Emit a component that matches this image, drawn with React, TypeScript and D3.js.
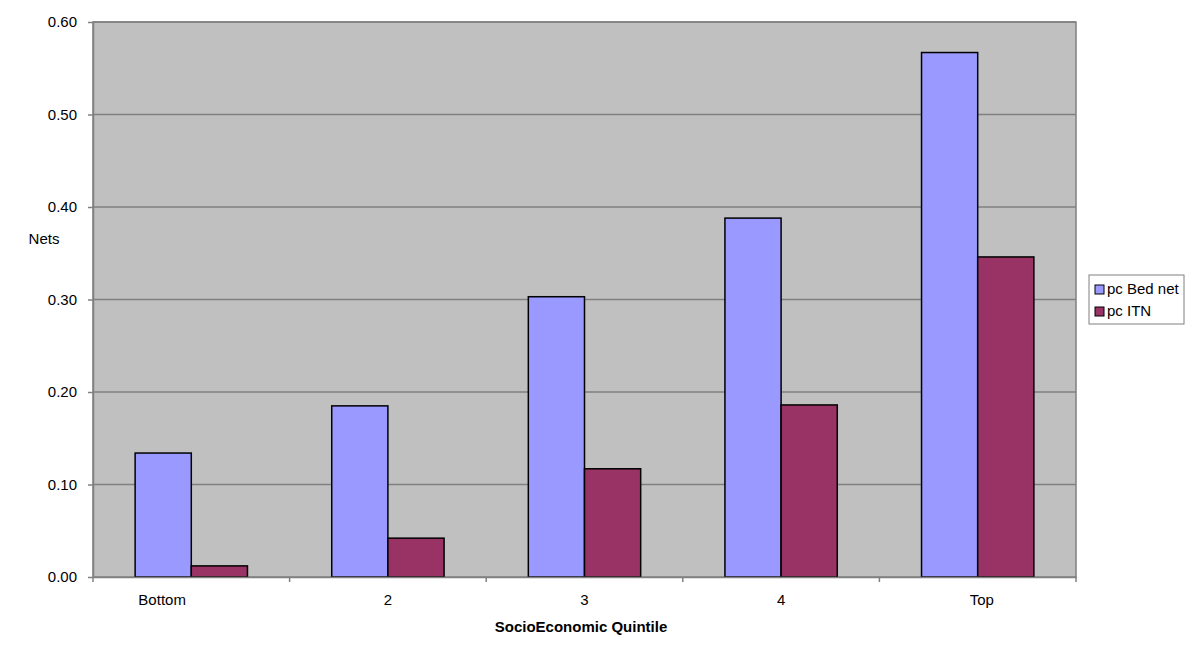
import React, { useEffect, useRef } from "react";
import * as d3 from "d3";

// chart data
const categories = ["Bottom", "2", "3", "4", "Top"];
// labels as they appear on the axis (bottom label is padded in the source)
const categoryLabels = ["Bottom              ", "2", "3", "4", "  Top"];
const series = ["pc Bed net", "pc ITN"];
const bedNet = [0.134, 0.185, 0.303, 0.388, 0.567];
const itn = [0.012, 0.042, 0.117, 0.186, 0.346];
const yTicks = [0, 0.1, 0.2, 0.3, 0.4, 0.5, 0.6];
const colors = ["#9999ff", "#993366"];

export default function App() {
  const svgRef = useRef<SVGSVGElement | null>(null);

  useEffect(() => {
    const svg = d3.select(svgRef.current);
    svg.selectAll("*").remove();

    const width = 1200;
    const height = 654;
    const margin = { top: 22, right: 124, bottom: 77, left: 93 };
    const font = "Liberation Sans, Arial, sans-serif";

    const x = d3.scaleBand()
      .domain(categories)
      .range([margin.left, width - margin.right]);

    const y = d3.scaleLinear()
      .domain([0, 0.6])
      .range([height - margin.bottom, margin.top]);

    // inner band for the two bars, excel gap width 150%
    const barW = x.bandwidth() / 3.5;
    const xs = d3.scaleBand()
      .domain(series)
      .range([0, barW * 2]);

    // plot background
    svg.append("rect")
      .attr("x", margin.left)
      .attr("y", margin.top)
      .attr("width", width - margin.left - margin.right)
      .attr("height", height - margin.top - margin.bottom)
      .attr("fill", "#c0c0c0")
      .attr("stroke", "#808080")
      .attr("stroke-width", 1.5);

    // gridlines
    svg.append("g")
      .selectAll("line")
      .data(yTicks.slice(1))
      .join("line")
      .attr("x1", margin.left)
      .attr("x2", width - margin.right)
      .attr("y1", (d) => y(d))
      .attr("y2", (d) => y(d))
      .attr("stroke", "#808080")
      .attr("stroke-width", 1.5);

    // bars
    const data = [bedNet, itn];
    const groups = svg.append("g")
      .selectAll("g")
      .data(categories)
      .join("g")
      .attr("transform", (d) => `translate(${(x(d) ?? 0) + barW * 0.75},0)`);

    groups.selectAll("rect")
      .data((d) => series.map((s, j) => ({ s, v: data[j][categories.indexOf(d)], j })))
      .join("rect")
      .attr("x", (d) => xs(d.s) ?? 0)
      .attr("y", (d) => y(d.v))
      .attr("width", xs.bandwidth())
      .attr("height", (d) => y(0) - y(d.v))
      .attr("fill", (d) => colors[d.j])
      .attr("stroke", "#000")
      .attr("stroke-width", 1.5);

    // y axis
    const yAxis = svg.append("g")
      .attr("transform", `translate(${margin.left},0)`)
      .call(d3.axisLeft(y).tickValues(yTicks).tickFormat(d3.format(".2f")).tickSize(5).tickSizeOuter(0));
    yAxis.select(".domain").attr("stroke", "#808080").attr("stroke-width", 1.5);
    yAxis.selectAll(".tick line").attr("stroke", "#808080").attr("stroke-width", 1.5);
    yAxis.selectAll("text")
      .attr("font-family", font)
      .attr("font-size", 15)
      .attr("fill", "#000")
      .attr("dx", -8);

    // x axis
    const xAxis = svg.append("g")
      .attr("transform", `translate(0,${height - margin.bottom})`)
      .call(d3.axisBottom(x)
        .tickSize(0)
        .tickSizeOuter(0)
        .tickFormat((d) => categoryLabels[categories.indexOf(d)]));
    xAxis.select(".domain").attr("stroke", "#808080").attr("stroke-width", 1.5);
    xAxis.selectAll("text")
      .attr("font-family", font)
      .attr("font-size", 15)
      .attr("fill", "#000")
      .attr("y", 28)
      .attr("dy", 0)
      .style("white-space", "pre");

    // category separators on x axis
    svg.append("g")
      .selectAll("line")
      .data(categories.concat(["end"]))
      .join("line")
      .attr("x1", (d, i) => margin.left + i * x.step())
      .attr("x2", (d, i) => margin.left + i * x.step())
      .attr("y1", y(0))
      .attr("y2", y(0) + 5)
      .attr("stroke", "#808080")
      .attr("stroke-width", 1.5);

    // axis titles
    svg.append("text")
      .attr("x", 581)
      .attr("y", 632)
      .attr("text-anchor", "middle")
      .attr("font-family", font)
      .attr("font-size", 15)
      .attr("font-weight", "bold")
      .text("SocioEconomic Quintile");

    svg.append("text")
      .attr("x", 44)
      .attr("y", 244)
      .attr("text-anchor", "middle")
      .attr("font-family", font)
      .attr("font-size", 15)
      .text("Nets");

    // legend
    const legend = svg.append("g").attr("transform", "translate(1089,275)");
    legend.append("rect")
      .attr("width", 95)
      .attr("height", 49)
      .attr("fill", "#fff")
      .attr("stroke", "#808080");
    series.forEach((s, i) => {
      legend.append("rect")
        .attr("x", 6)
        .attr("y", 10 + i * 22)
        .attr("width", 9)
        .attr("height", 9)
        .attr("fill", colors[i])
        .attr("stroke", "#000");
      legend.append("text")
        .attr("x", 18)
        .attr("y", 19 + i * 22)
        .attr("font-family", font)
        .attr("font-size", 15)
        .text(s);
    });
  }, []);

  return (
    <div>
      {/* chart */}
      <svg ref={svgRef} width={1200} height={654} style={{ position: "absolute", left: 0, top: 0 }}></svg>
    </div>
  );
}
